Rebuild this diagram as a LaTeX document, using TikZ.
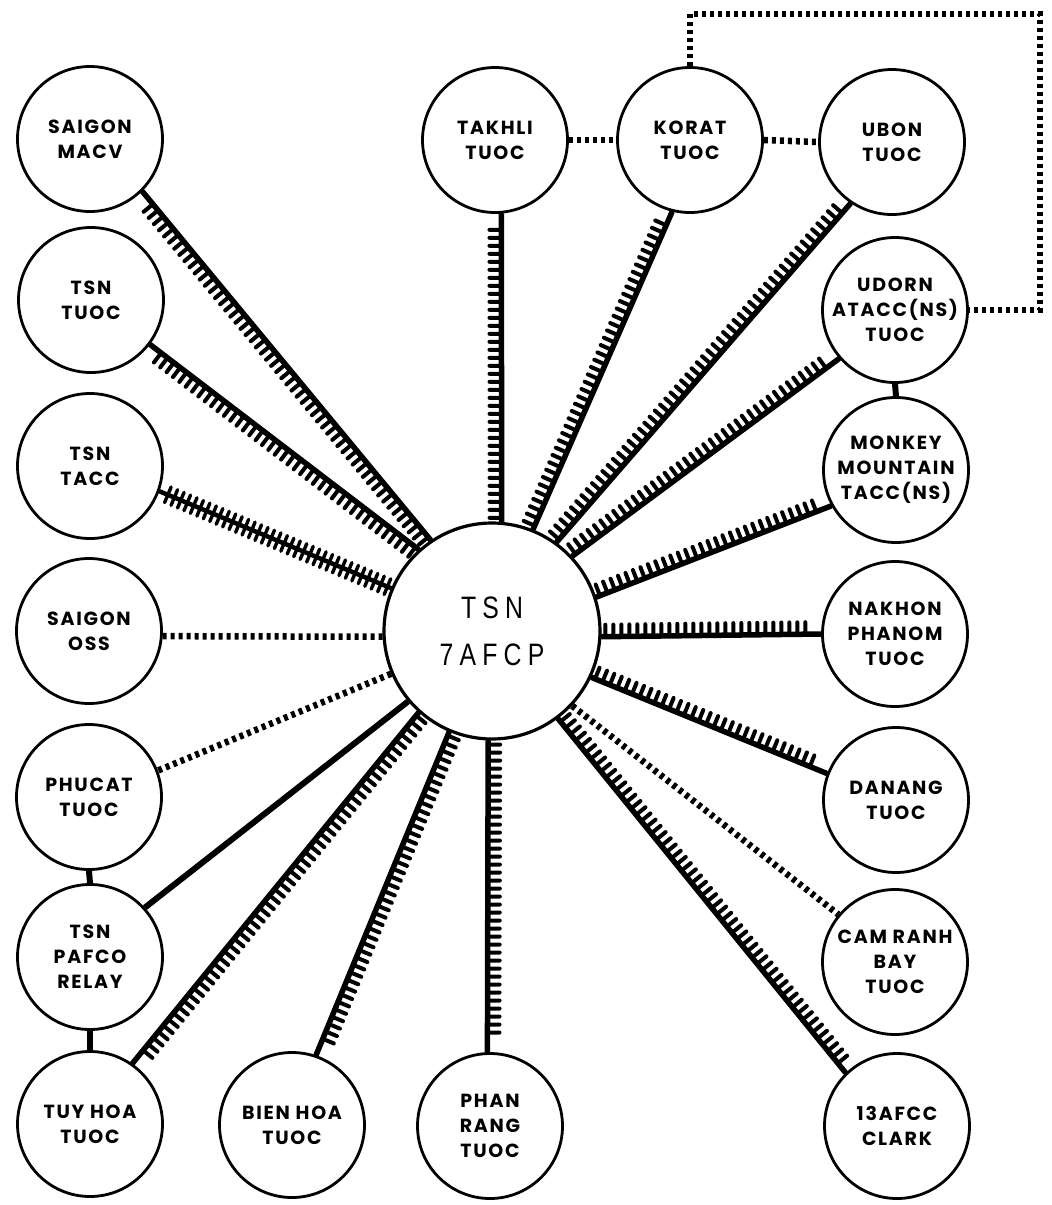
\documentclass[tikz,border=0pt]{standalone}
\usepackage{fontspec}
\usetikzlibrary{positioning,decorations.pathreplacing}
\newfontfamily\stnfont{Poppins}[LetterSpace=9]
\newfontfamily\hubfont{Liberation Sans}[FakeStretch=0.8,LetterSpace=20]

\begin{document}
\begin{tikzpicture}[
    x=1pt, y=-1pt,
    station/.style={circle, draw, line width=2.8pt, minimum size=145pt, inner sep=0pt,
        align=center, font=\stnfont\bfseries\fontsize{19}{25}\selectfont},
    hubnode/.style={circle, draw, line width=3.2pt, minimum size=216pt, inner sep=0pt,
        align=center, font=\hubfont\fontsize{31}{47}\selectfont},
    trunk/.style={line width=5.5pt, postaction={decorate, draw, line width=4pt, line cap=round,
        decoration={border, segment length=8pt, amplitude=12pt, angle=90,
        pre length=4pt, post length=4pt}}},
    twin/.style={line width=4.5pt, postaction={decorate, draw, line width=3.4pt, line cap=round,
        decoration={ticks, segment length=7pt, amplitude=8.5pt,
        pre length=4pt, post length=4pt}}},
    dots/.style={line width=6.5pt, dash pattern=on 4pt off 4pt},
    solid line/.style={line width=6pt}
]
    \useasboundingbox (0,0) rectangle (1052,1205);

    % Command post
    \node[hubnode] (hub) at (492,631) {TSN\\7AFCP};

    % Left column
    \node[station] (macv) at (90,139) {SAIGON\\MACV};
    \node[station] (tsntuoc) at (91,300) {TSN\\TUOC};
    \node[station] (tsntacc) at (90,466) {TSN\\TACC};
    \node[station] (oss) at (89,631) {SAIGON\\OSS};
    \node[station] (phucat) at (89,797) {PHUCAT\\TUOC};
    \node[station] (pafco) at (90,957) {TSN\\PAFCO\\RELAY};
    \node[station] (tuyhoa) at (90,1124) {TUY HOA\\TUOC};

    % Bottom row
    \node[station] (bienhoa) at (292,1125) {BIEN HOA\\TUOC};
    \node[station] (phanrang) at (490,1126) {PHAN\\RANG\\TUOC};

    % Right column
    \node[station] (clark) at (897,1126) {13AFCC\\CLARK};
    \node[station] (camranh) at (895,962) {CAM RANH\\BAY\\TUOC};
    \node[station] (danang) at (896,800) {DANANG\\TUOC};
    \node[station] (nakhon) at (895,634) {NAKHON\\PHANOM\\TUOC};
    \node[station] (monkey) at (896,470) {MONKEY\\MOUNTAIN\\TACC(NS)};
    \node[station] (udorn) at (895,310) {UDORN\\ATACC(NS)\\TUOC};
    \node[station] (ubon) at (892,142) {UBON\\TUOC};

    % Top row
    \node[station] (korat) at (690,140) {KORAT\\TUOC};
    \node[station] (takhli) at (495,140) {TAKHLI\\TUOC};

    % Spokes to the left
    \draw[trunk] (hub.124) -- (macv.-45);
    \draw[trunk] (hub.132) -- (tsntuoc.-37);
    \draw[twin] (hub.157) -- (tsntacc.-20);
    \draw[dots] (hub.183) -- (oss.-4);
    \draw[dots] (hub.203) -- (phucat.21);
    \draw[solid line] (hub.220) -- (pafco.42);
    \draw[trunk] (hub.228) -- (tuyhoa.55);

    % Spokes downwards
    \draw[trunk] (hub.247) -- (bienhoa.71);
    \draw[trunk] (hub.268) -- (phanrang.92);

    % Spokes to the right
    \draw[trunk] (hub.-53) -- (clark.134);
    \draw[dots] (hub.-43) -- (camranh.140);
    \draw[trunk] (hub.-25) -- (danang.159);
    \draw[trunk] (hub.-3) -- (nakhon.180);
    \draw[trunk] (hub.18) -- (monkey.209);
    \draw[trunk] (hub.43) -- (udorn.221);
    \draw[trunk] (hub.54) -- (ubon.236);

    % Spokes upwards
    \draw[trunk] (hub.68) -- (korat.256);
    \draw[trunk] (hub.85) -- (takhli.-85);

    % Station to station links
    \draw[dots] (takhli.east) -- (korat.west);
    \draw[dots] (korat.east) -- (ubon.west);
    \coordinate (loopne) at (1040,14);
    \draw[dots] (korat.north) |- (loopne) |- (udorn.east);
    \draw[solid line] (udorn.south) -- (monkey.north);
    \draw[solid line] (phucat.south) -- (pafco.north);
    \draw[solid line] (pafco.south) -- (tuyhoa.north);

\end{tikzpicture}
\end{document}
